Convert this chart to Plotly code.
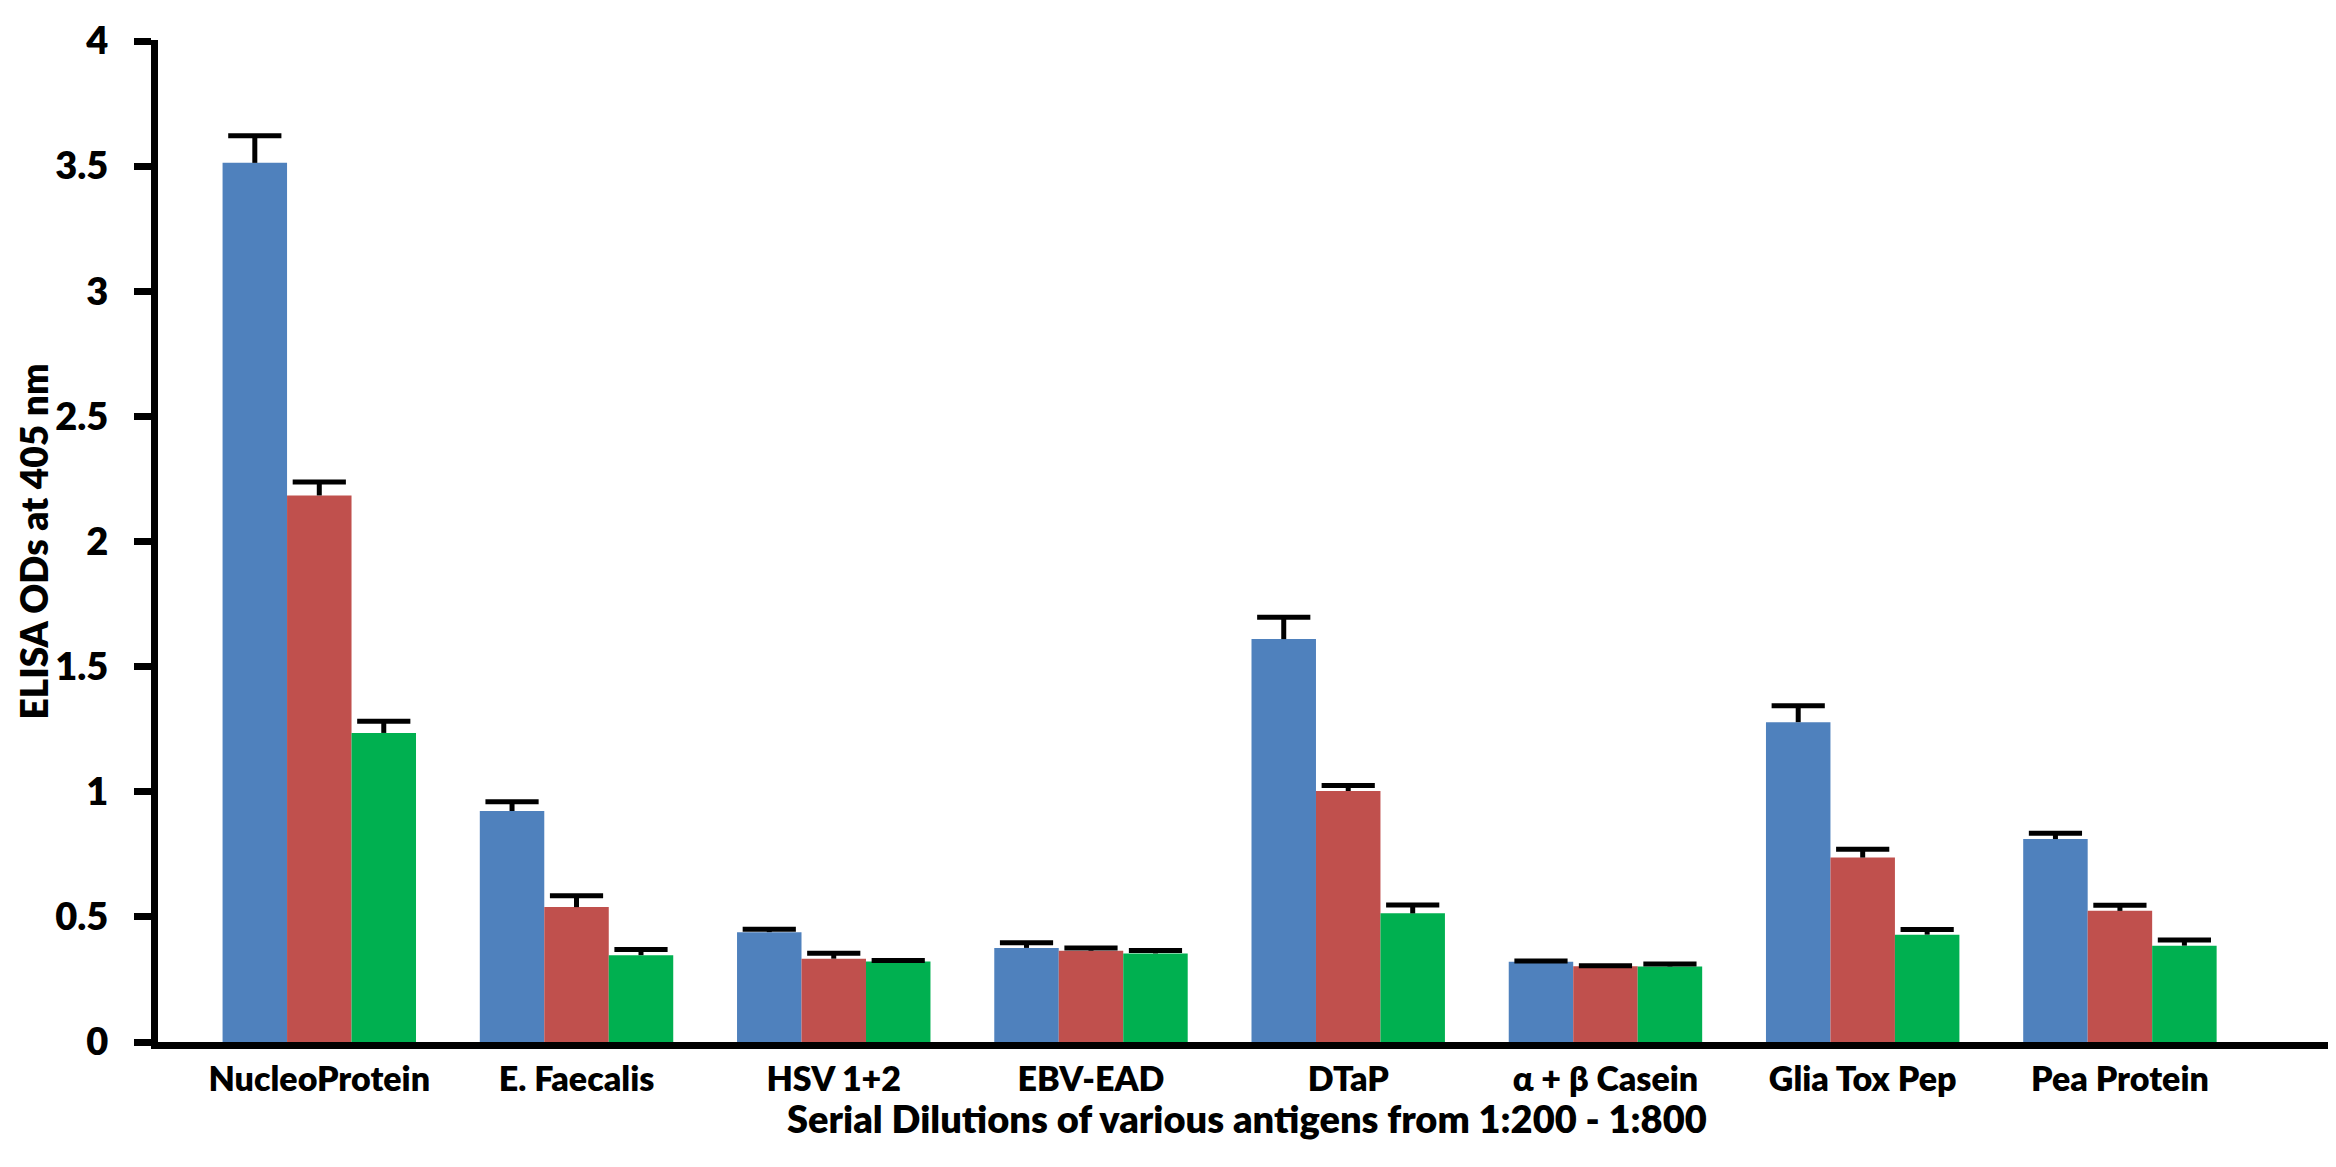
import plotly.graph_objects as go

categories = ["NucleoProtein", "E. Faecalis", "HSV 1+2", "EBV-EAD", "DTaP",
              "α + β Casein", "Glia Tox Pep", "Pea Protein"]
series_names = ["1:200", "1:400", "1:800"]
dil_200 = [3.513, 0.923, 0.439, 0.376, 1.610, 0.321, 1.278, 0.811]
err_200 = [0.108, 0.037, 0.012, 0.021, 0.087, 0.003, 0.066, 0.023]
dil_400 = [2.184, 0.539, 0.333, 0.365, 1.003, 0.303, 0.737, 0.524]
err_400 = [0.054, 0.045, 0.022, 0.011, 0.022, 0.002, 0.033, 0.022]
dil_800 = [1.235, 0.347, 0.322, 0.354, 0.514, 0.302, 0.429, 0.385]
err_800 = [0.047, 0.023, 0.004, 0.012, 0.033, 0.010, 0.021, 0.023]
y_ticks = [0, 0.5, 1, 1.5, 2, 2.5, 3, 3.5, 4]
y_tick_text = ["0", "0.5", "1", "1.5", "2", "2.5", "3", "3.5", "4"]

colors = ["#4F81BD", "#C0504D", "#00B050"]
values = [dil_200, dil_400, dil_800]
errors = [err_200, err_400, err_800]

FONT = "Lato"
W = 800

fig = go.Figure()
for name, vals, errs, col in zip(series_names, values, errors, colors):
    fig.add_trace(go.Bar(
        name=name, x=categories, y=vals, offsetgroup=name,
        marker=dict(color=col, line=dict(width=0)),
        error_y=dict(type="data", array=errs, arrayminus=[0] * len(errs),
                     symmetric=False, color="black", thickness=5, width=0),
    ))
# error-bar caps (top only), grouped like the bars
for name, vals, errs in zip(series_names, values, errors):
    fig.add_trace(go.Scatter(
        name=name + " cap", x=categories, y=[v + e for v, e in zip(vals, errs)],
        offsetgroup=name, mode="markers", hoverinfo="skip",
        marker=dict(symbol="line-ew", size=38, color="black",
                    line=dict(color="black", width=5)),
    ))

fig.update_layout(
    width=2336, height=1167,
    margin=dict(l=150, r=8, t=16, b=133),
    paper_bgcolor="white", plot_bgcolor="white",
    barmode="group", bargap=0.248, bargroupgap=0,
    scattermode="group", scattergap=0.248,
    showlegend=False,
    font=dict(family=FONT, color="black"),
)
fig.update_xaxes(
    range=[-0.627, 7.84],
    showline=True, linecolor="black", linewidth=7,
    ticks="", showgrid=False, zeroline=False,
    tickfont=dict(family=FONT, size=34, weight=W, color="black"),
    ticklabelstandoff=1,
)
fig.update_yaxes(
    range=[0, 4.004], tickvals=y_ticks, ticktext=y_tick_text,
    showline=True, linecolor="black", linewidth=7,
    ticks="outside", ticklen=17, tickwidth=7, tickcolor="black",
    showgrid=False, zeroline=False,
    tickfont=dict(family=FONT, size=38, weight=W, color="black"),
    ticklabelstandoff=18, ticklabeloverflow="allow",
)
fig.add_annotation(
    text="ELISA ODs at 405 nm", textangle=-90,
    xref="paper", yref="paper", x=-0.0572, y=0.5,
    xanchor="center", yanchor="middle", showarrow=False,
    font=dict(family=FONT, size=37, weight=W, color="black"),
)
fig.add_annotation(
    text="Serial Dilutions of various antigens from 1:200 - 1:800",
    xref="paper", yref="paper", x=0.5, y=-0.076,
    xanchor="center", yanchor="middle", showarrow=False,
    font=dict(family=FONT, size=38, weight=W, color="black"),
)
fig.write_html("out.html")
